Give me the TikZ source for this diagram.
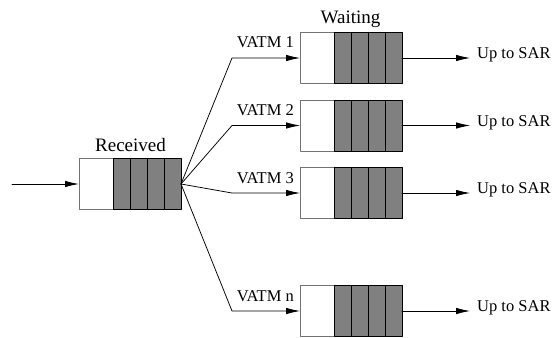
\documentclass[tikz,border=0pt]{standalone}
\usepackage{fontspec}
\setmainfont{Liberation Serif}
\usetikzlibrary{positioning,arrows.meta}
\begin{document}
\begin{tikzpicture}[x=1pt,y=-1pt,line cap=round,line join=round,>={Latex[length=14pt,width=6.5pt]},
  slot/.style={draw=black!55,fill=white,line width=0.8pt,minimum width=34pt,minimum height=51pt,inner sep=0pt,outer sep=0pt},
  cell/.style={draw=black,fill=black!50,line width=0.9pt,minimum width=17pt,minimum height=51pt,inner sep=0pt,outer sep=0pt},
  lbl/.style={font=\rmfamily\fontsize{16.5}{18}\selectfont,inner sep=0pt},
  head/.style={font=\rmfamily\fontsize{19}{21}\selectfont,inner sep=0pt}]
  \useasboundingbox (0,0) rectangle (553,337);
  % received queue
  \node[slot] (r0) at (96,184) {};
  \node[cell,right=0pt of r0] (r1) {};
  \node[cell,right=0pt of r1] (r2) {};
  \node[cell,right=0pt of r2] (r3) {};
  \node[cell,right=0pt of r3] (r4) {};
  \node[head,anchor=base] (rcv) at (130.5,151) {Received};
  \coordinate (in) at (12,184);
  \draw[line width=0.9pt,->] (in) -- (r0.west);
  % waiting queues
  \node[slot] (w1) at (317,58) {};
  \node[slot] (w2) at (317,125.5) {};
  \node[slot] (w3) at (317,193) {};
  \node[slot] (wn) at (317,311) {};
  \foreach \q in {w1,w2,w3,wn}{
    \node[cell,right=0pt of \q] (\q a) {};
    \node[cell,right=0pt of \q a] (\q b) {};
    \node[cell,right=0pt of \q b] (\q c) {};
    \node[cell,right=0pt of \q c] (\q d) {};
  }
  \node[head,anchor=base] (wait) at (350.5,24) {Waiting};
  % fan out
  \coordinate (bend) at (232,0);
  \draw[line width=0.75pt,->] (r4.east) -- (bend |- w1.west) -- (w1.west);
  \draw[line width=0.75pt,->] (r4.east) -- (bend |- w2.west) -- (w2.west);
  \draw[line width=0.75pt,->] (r4.east) -- (bend |- w3.west) -- (w3.west);
  \draw[line width=0.75pt,->] (r4.east) -- (bend |- wn.west) -- (wn.west);
  \node[lbl,anchor=base east] (v1) at (294,48) {VATM 1};
  \node[lbl,anchor=base east] (v2) at (294,115.5) {VATM 2};
  \node[lbl,anchor=base east] (v3) at (294,183) {VATM 3};
  \node[lbl,anchor=base east] (vn) at (294,301.5) {VATM n};
  % up to SAR
  \node[lbl,anchor=base west] (s1) at (477,58.5) {Up to SAR};
  \node[lbl,anchor=base west] (s2) at (477,126) {Up to SAR};
  \node[lbl,anchor=base west] (s3) at (477,193.5) {Up to SAR};
  \node[lbl,anchor=base west] (sn) at (477,311.5) {Up to SAR};
  \draw[line width=0.75pt,->,shorten >=7pt] (w1d.east) -- (w1d.east -| s1.west);
  \draw[line width=0.75pt,->,shorten >=7pt] (w2d.east) -- (w2d.east -| s2.west);
  \draw[line width=0.75pt,->,shorten >=7pt] (w3d.east) -- (w3d.east -| s3.west);
  \draw[line width=0.75pt,->,shorten >=7pt] (wnd.east) -- (wnd.east -| sn.west);
\end{tikzpicture}
\end{document}
